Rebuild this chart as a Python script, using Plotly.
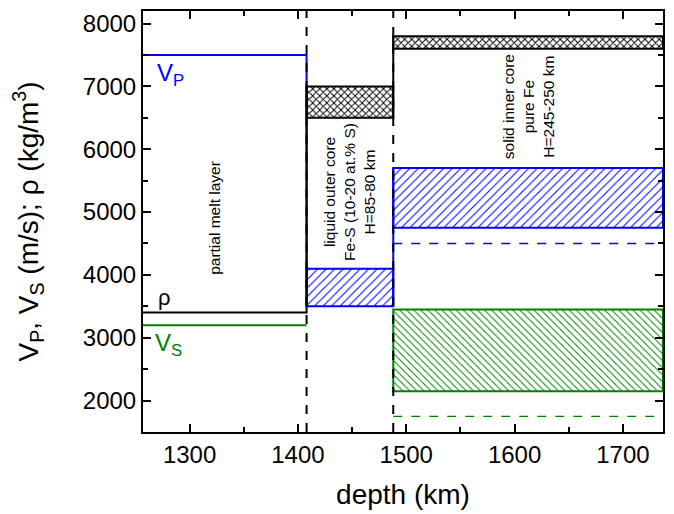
import plotly.graph_objects as go

# ---- data ----
x_range = [1257, 1737]
y_range = [1500, 8200]
boundaries = [1408, 1488]          # melt/outer core, outer/inner core

vp_melt = 7500
rho_melt = 3400
vs_melt = 3200

rho_outer = [6500, 7000]
vp_outer = [3500, 4100]

rho_inner = [7600, 7800]
vp_inner = [4750, 5700]
vs_inner = [2150, 3450]
vp_inner_ref = 4500
vs_inner_ref = 1750

BLUE = "#0000FF"
GREEN = "#008000"
BLACK = "#000000"

fig = go.Figure()

def box(x0, x1, lo_hi, color, shape, size, solidity):
    fig.add_trace(go.Bar(
        x=[(x0 + x1) / 2], width=[x1 - x0], base=[lo_hi[0]], y=[lo_hi[1] - lo_hi[0]],
        marker=dict(color="white", opacity=1,
                    line=dict(color=color, width=2),
                    pattern=dict(shape=shape, fgcolor=color, bgcolor="white", fgopacity=1,
                                 size=size, solidity=solidity)),
        showlegend=False, hoverinfo="skip"))

b1, b2 = boundaries
xl, xr = x_range

# boxes
box(b1, b2, rho_outer, BLACK, "x", 5, 0.35)
box(b1, b2, vp_outer, BLUE, "/", 6, 0.17)
box(b2, xr, rho_inner, BLACK, "x", 5, 0.35)
box(b2, xr, vp_inner, BLUE, "/", 6, 0.17)
box(b2, xr, vs_inner, GREEN, "\\", 5, 0.2)

# step lines
fig.add_trace(go.Scatter(x=[xl, b1, b1], y=[vp_melt, vp_melt, vp_outer[0]], mode="lines",
                         line=dict(color=BLUE, width=2), showlegend=False, hoverinfo="skip"))
fig.add_trace(go.Scatter(x=[b2, b2], y=[vp_outer[0], vp_inner[1]], mode="lines",
                         line=dict(color=BLUE, width=2), showlegend=False, hoverinfo="skip"))
fig.add_trace(go.Scatter(x=[xl, b1, b1], y=[rho_melt, rho_melt, rho_outer[1]], mode="lines",
                         line=dict(color=BLACK, width=2), showlegend=False, hoverinfo="skip"))
fig.add_trace(go.Scatter(x=[b2, b2], y=[rho_outer[0], rho_inner[1]], mode="lines",
                         line=dict(color=BLACK, width=2), showlegend=False, hoverinfo="skip"))
fig.add_trace(go.Scatter(x=[xl, b1], y=[vs_melt, vs_melt], mode="lines",
                         line=dict(color=GREEN, width=2), showlegend=False, hoverinfo="skip"))

# dashed reference lines in inner core
fig.add_trace(go.Scatter(x=[b2, xr], y=[vp_inner_ref, vp_inner_ref], mode="lines",
                         line=dict(color=BLUE, width=1.3, dash="dash"), showlegend=False, hoverinfo="skip"))
fig.add_trace(go.Scatter(x=[b2, xr], y=[vs_inner_ref, vs_inner_ref], mode="lines",
                         line=dict(color=GREEN, width=1.3, dash="dash"), showlegend=False, hoverinfo="skip"))

# boundary dashed lines
for b in boundaries:
    fig.add_vline(x=b, line=dict(color=BLACK, width=2, dash="dash"), layer="above")

# labels
FONT = "Arial, Liberation Sans, sans-serif"
fig.add_annotation(x=1268, y=7190, text="V<sub>P</sub>", showarrow=False, xanchor="left",
                   font=dict(family=FONT, size=24, color=BLUE))
fig.add_annotation(x=1269, y=3640, text="ρ", showarrow=False, xanchor="left",
                   font=dict(family=FONT, size=22, color=BLACK))
fig.add_annotation(x=1266, y=2900, text="V<sub>S</sub>", showarrow=False, xanchor="left",
                   font=dict(family=FONT, size=24, color=GREEN))

fig.add_annotation(x=1323, y=4900, text="partial melt layer", textangle=-90, showarrow=False,
                   font=dict(family=FONT, size=15.5, color=BLACK))
fig.add_annotation(x=1448, y=5320, text="liquid outer core<br>Fe-S (10-20 at.% S)<br>H=85-80 km",
                   textangle=-90, showarrow=False,
                   font=dict(family=FONT, size=15.5, color=BLACK))
fig.add_annotation(x=1613, y=6680, text="solid inner core<br>pure Fe<br>H=245-250 km",
                   textangle=-90, showarrow=False,
                   font=dict(family=FONT, size=15.5, color=BLACK))

axis_common = dict(showline=True, linecolor=BLACK, linewidth=2, mirror="ticks",
                   ticks="inside", ticklen=8, tickwidth=1.5, tickcolor=BLACK,
                   showgrid=False, zeroline=False,
                   tickfont=dict(family=FONT, size=24, color=BLACK))

fig.update_xaxes(range=x_range, dtick=100, tick0=1300,
                 minor=dict(ticks="inside", ticklen=5, tickwidth=1.5, dtick=50, tickcolor=BLACK),
                 title=dict(text="depth (km)", font=dict(family=FONT, size=28, color=BLACK), standoff=18),
                 **axis_common)
fig.update_yaxes(range=y_range, dtick=1000, tick0=2000,
                 minor=dict(ticks="inside", ticklen=5, tickwidth=1.5, dtick=500, tickcolor=BLACK),
                 title=dict(text="V<sub>P</sub>, V<sub>S</sub> (m/s); ρ (kg/m<sup>3</sup>)",
                            font=dict(family=FONT, size=28, color=BLACK), standoff=36),
                 **axis_common)

fig.update_layout(width=674, height=514, barmode="overlay",
                  margin=dict(l=143, r=9, t=10, b=79),
                  plot_bgcolor="white", paper_bgcolor="white")

fig.write_html("out.html")
